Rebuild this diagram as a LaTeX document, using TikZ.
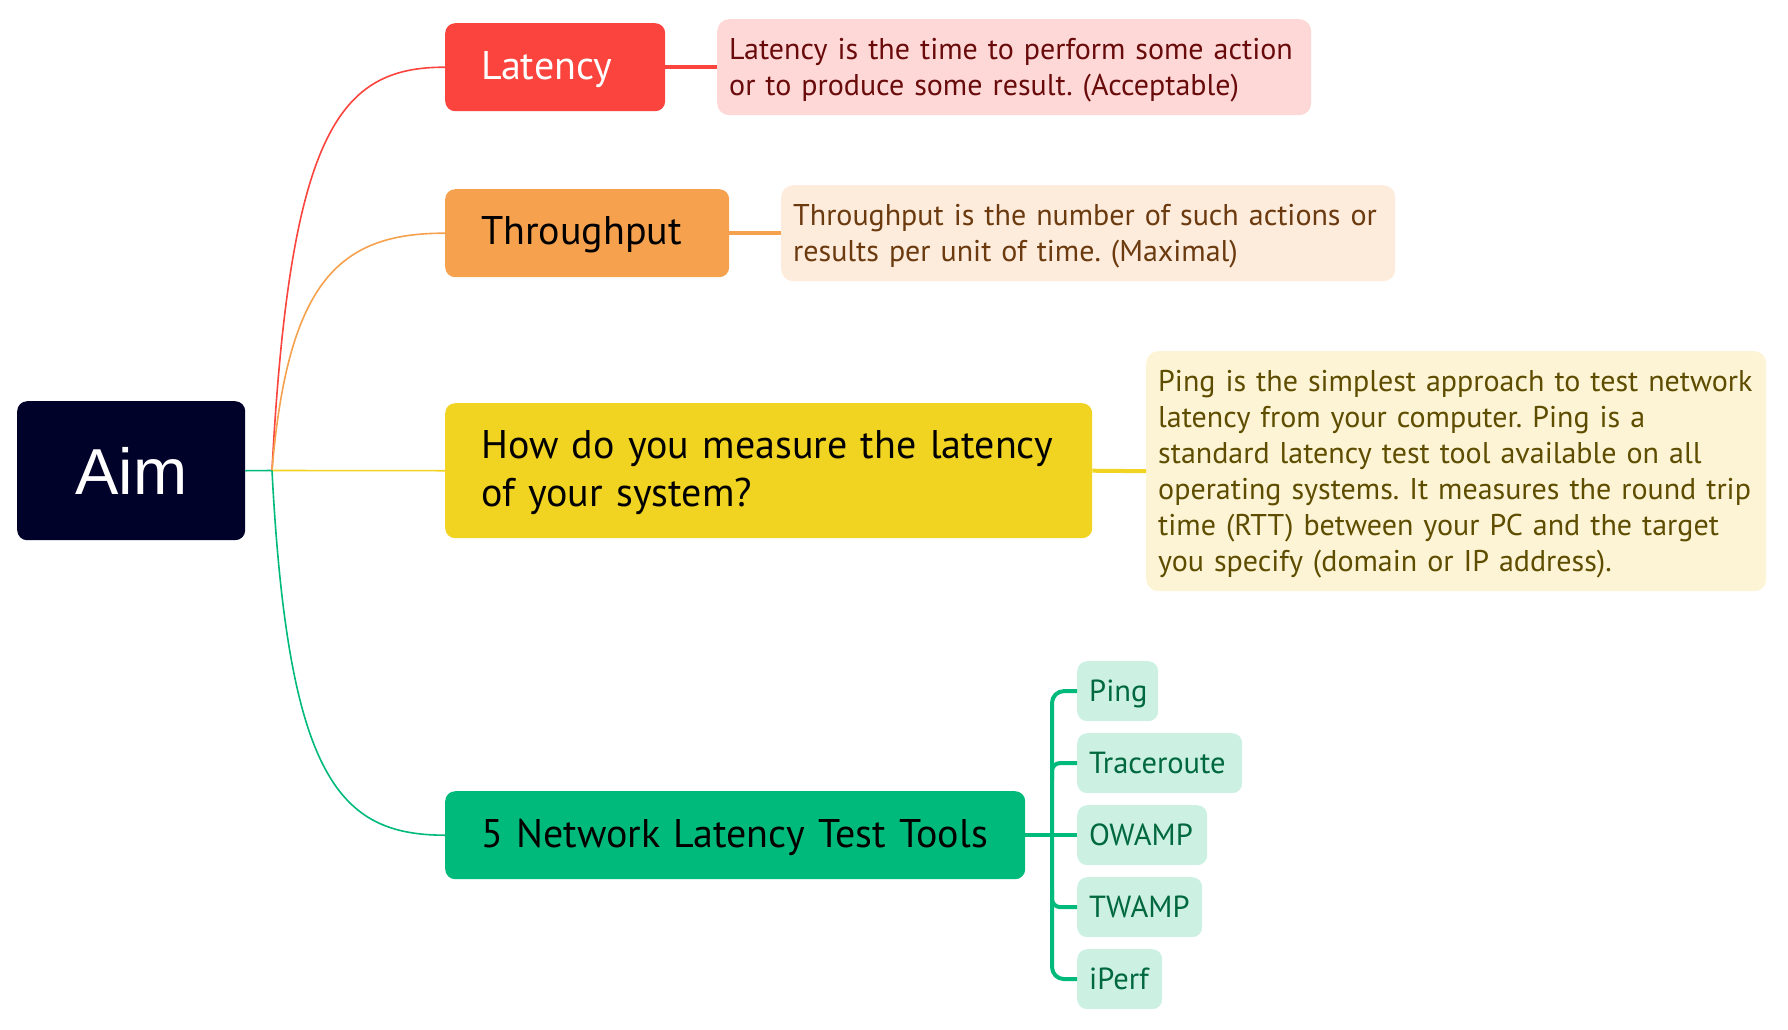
\documentclass[tikz,border=0pt]{standalone}
\usepackage{fontspec}
\setmainfont{PT Sans}
\newfontfamily\aimfont{Liberation Sans}
\frenchspacing
\definecolor{aimbg}{HTML}{000229}
\definecolor{latred}{HTML}{FA443D}
\definecolor{latnote}{HTML}{FDD8D7}
\definecolor{lattext}{HTML}{6A0B0B}
\definecolor{thror}{HTML}{F5A14E}
\definecolor{thrnote}{HTML}{FDEBDC}
\definecolor{thrtext}{HTML}{6B3A0F}
\definecolor{yel}{HTML}{F1D322}
\definecolor{yelnote}{HTML}{FCF4D4}
\definecolor{yeltext}{HTML}{5E4D00}
\definecolor{grn}{HTML}{00BA7C}
\definecolor{grnchild}{HTML}{CCF1E2}
\definecolor{grntext}{HTML}{00683F}
\tikzset{
  mainbox/.style={rounded corners=10pt, inner xsep=36pt, inner ysep=0pt, anchor=north west, align=left, text height=34pt, text depth=10pt, font=\fontsize{40}{48}\selectfont},
  notebox/.style={rounded corners=12pt, inner xsep=12pt, inner ysep=0pt, anchor=north west, align=left, text height=22pt, text depth=38pt, font=\fontsize{30}{36}\selectfont},
  childbox/.style={rounded corners=10pt, fill=grnchild, text=grntext, inner xsep=12pt, inner ysep=0pt, anchor=north west, align=left, text height=30pt, text depth=10pt, minimum height=60pt, font=\fontsize{30.5}{36}\selectfont},
  thin/.style={line width=1.6pt},
  thick/.style={line width=4pt},
}
\begin{document}
\begin{tikzpicture}[x=1pt,y=-1pt]
\useasboundingbox (0,0) rectangle (1788,1029);
% root
\node[rounded corners=10pt, fill=aimbg, text=white, minimum width=228pt, minimum height=139pt, anchor=north west, inner sep=0pt, font=\aimfont\fontsize{65}{66}\selectfont] (aim) at (17,401) {Aim};
\coordinate (jn) at (272,470.5);
% main topics
\node[mainbox, fill=latred, text=white, text width=148pt, minimum height=88pt] (lat) at (445,23) {Latency};
\node[mainbox, fill=thror, text=black, text width=212pt, minimum height=88pt, text height=33pt, text depth=11pt] (thr) at (445,189) {Throughput};
\node[mainbox, fill=yel, text=black, text width=575pt, minimum height=135pt, text height=30pt, text depth=55pt] (how) at (445,403) {How do you measure the latency\\of your system?};
\node[mainbox, fill=grn, text=black, text width=508pt, minimum height=88pt] (tools) at (445,791) {5 Network Latency Test Tools};
% notes
\node[notebox, fill=latnote, text=lattext, text width=570pt, minimum height=96pt] (latn) at (717,19) {Latency is the time to perform some action\\or to produce some result. (Acceptable)};
\node[notebox, fill=thrnote, text=thrtext, text width=590pt, minimum height=96pt] (thrn) at (781,185) {Throughput is the number of such actions or\\results per unit of time. (Maximal)};
\node[notebox, fill=yelnote, text=yeltext, text width=596pt, minimum height=240pt, text height=20pt, text depth=180pt] (hown) at (1146,351) {Ping is the simplest approach to test network\\latency from your computer. Ping is a\\standard latency test tool available on all\\operating systems. It measures the round trip\\time (RTT) between your PC and the target\\you specify (domain or IP address).};
% children
\node[childbox, text width=57pt] (ping) at (1077,661) {Ping};
\node[childbox, text width=141pt] (trace) at (1077,733) {Traceroute};
\node[childbox, text width=106pt] (owamp) at (1077,805) {OWAMP};
\node[childbox, text width=101pt] (twamp) at (1077,877) {TWAMP};
\node[childbox, text width=61pt] (iperf) at (1077,949) {iPerf};
% connectors from root
\draw[thin, grn] (aim.east) -- (jn);
\draw[thin, latred] (jn) .. controls (290,130) and (340,67) .. (lat.west);
\draw[thin, thror] (jn) .. controls (288,280) and (340,233) .. (thr.west);
\draw[thin, yel] (jn) -- (how.west);
\draw[thin, grn] (jn) .. controls (288,780) and (340,835) .. (tools.west);
% topic to note
\draw[thick, latred] (lat.east) -- (latn.west);
\draw[thick, thror] (thr.east) -- (thrn.west);
\draw[thick, yel] (how.east) -- (hown.west);
% bracket
\draw[thick, grn] (tools.east) -- (owamp.west);
\draw[thick, grn, rounded corners=12pt] (ping.west) -- (1052,691) -- (1052,979) -- (iperf.west);
\draw[thick, grn, rounded corners=8pt] (1052,780) -- (1052,763) -- (trace.west);
\draw[thick, grn, rounded corners=8pt] (1052,890) -- (1052,907) -- (twamp.west);
\end{tikzpicture}
\end{document}
